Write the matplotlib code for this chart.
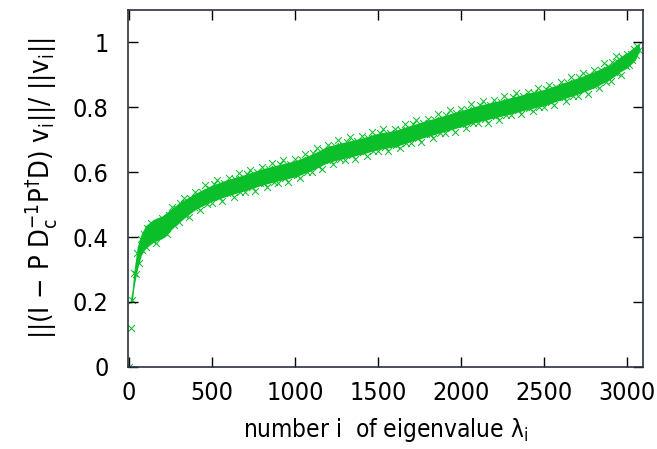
import matplotlib
matplotlib.use("Agg")
import matplotlib.pyplot as plt
import numpy as np

plt.rcParams["font.family"] = "DejaVu Sans"
plt.rcParams["font.stretch"] = "condensed"
plt.rcParams["mathtext.fontset"] = "custom"
plt.rcParams["mathtext.rm"] = "DejaVu Sans:stretch=condensed"
plt.rcParams["mathtext.it"] = "DejaVu Sans:stretch=condensed"

# eigenvalue number i, sampled every 10
idx = np.arange(0, 3080, 10)

# relative residual ||(I - P Dc^-1 P^+ D) v_i|| / ||v_i||
ratio = [
    0.0, 0.12, 0.205, 0.29, 0.285, 0.35, 0.32, 0.395, 0.36, 0.41,
    0.37, 0.428, 0.396, 0.444, 0.392, 0.42, 0.383, 0.441, 0.434, 0.412,
    0.46, 0.415, 0.449, 0.409, 0.468, 0.448, 0.492, 0.437, 0.466, 0.486,
    0.445, 0.504, 0.472, 0.521, 0.469, 0.498, 0.461, 0.52, 0.513, 0.492,
    0.54, 0.493, 0.525, 0.483, 0.54, 0.518, 0.56, 0.503, 0.53, 0.548,
    0.505, 0.562, 0.529, 0.575, 0.522, 0.549, 0.511, 0.568, 0.559, 0.536,
    0.583, 0.535, 0.566, 0.523, 0.579, 0.556, 0.597, 0.539, 0.565, 0.582,
    0.538, 0.595, 0.561, 0.608, 0.555, 0.582, 0.543, 0.60, 0.592, 0.568,
    0.615, 0.566, 0.598, 0.554, 0.61, 0.587, 0.628, 0.569, 0.595, 0.612,
    0.568, 0.624, 0.59, 0.637, 0.583, 0.609, 0.570, 0.626, 0.618, 0.594,
    0.64, 0.592, 0.624, 0.581, 0.638, 0.615, 0.657, 0.599, 0.626, 0.643,
    0.60, 0.658, 0.625, 0.673, 0.62, 0.648, 0.61, 0.668, 0.66, 0.638,
    0.685, 0.636, 0.668, 0.624, 0.68, 0.657, 0.698, 0.639, 0.665, 0.682,
    0.638, 0.694, 0.66, 0.707, 0.653, 0.679, 0.64, 0.696, 0.688, 0.664,
    0.71, 0.662, 0.693, 0.65, 0.706, 0.683, 0.724, 0.666, 0.692, 0.709,
    0.665, 0.721, 0.687, 0.732, 0.678, 0.704, 0.665, 0.721, 0.711, 0.687,
    0.733, 0.685, 0.716, 0.673, 0.73, 0.707, 0.748, 0.69, 0.717, 0.733,
    0.69, 0.747, 0.713, 0.76, 0.706, 0.733, 0.694, 0.751, 0.742, 0.719,
    0.765, 0.717, 0.748, 0.705, 0.761, 0.738, 0.779, 0.721, 0.747, 0.764,
    0.72, 0.777, 0.743, 0.79, 0.736, 0.763, 0.724, 0.781, 0.772, 0.749,
    0.795, 0.747, 0.778, 0.735, 0.791, 0.768, 0.809, 0.751, 0.777, 0.794,
    0.75, 0.806, 0.772, 0.819, 0.765, 0.791, 0.752, 0.808, 0.80, 0.776,
    0.822, 0.773, 0.805, 0.761, 0.817, 0.794, 0.835, 0.776, 0.802, 0.819,
    0.775, 0.831, 0.798, 0.844, 0.79, 0.817, 0.778, 0.834, 0.825, 0.802,
    0.848, 0.799, 0.83, 0.787, 0.843, 0.819, 0.86, 0.801, 0.828, 0.844,
    0.80, 0.857, 0.824, 0.87, 0.817, 0.844, 0.806, 0.863, 0.854, 0.831,
    0.878, 0.83, 0.861, 0.818, 0.875, 0.852, 0.893, 0.835, 0.862, 0.878,
    0.835, 0.892, 0.859, 0.906, 0.853, 0.88, 0.842, 0.899, 0.891, 0.868,
    0.915, 0.868, 0.90, 0.858, 0.915, 0.893, 0.935, 0.878, 0.905, 0.923,
    0.88, 0.939, 0.908, 0.957, 0.906, 0.935, 0.898, 0.956, 0.949, 0.927,
    0.965, 0.93, 0.965, 0.945, 0.98, 0.96, 0.99, 0.975,
]

# dense core of the point cloud (where the crosses merge into solid green)
band_idx = [8, 20, 30, 50, 75, 100, 150, 200, 300, 400, 500, 600, 700, 800,
            900, 1000, 1100, 1200, 1300, 1400, 1500, 1600, 1700, 1800, 1900,
            2000, 2100, 2200, 2300, 2400, 2500, 2600, 2700, 2800, 2900, 2950,
            3000, 3050, 3072]
band_lo = [0.195, 0.20, 0.245, 0.30, 0.345, 0.365, 0.385, 0.395, 0.445, 0.485,
           0.51, 0.528, 0.543, 0.56, 0.573, 0.585, 0.605, 0.63, 0.643, 0.655,
           0.67, 0.678, 0.695, 0.71, 0.725, 0.74, 0.755, 0.767, 0.78, 0.793,
           0.805, 0.823, 0.84, 0.86, 0.887, 0.907, 0.922, 0.947, 0.975]
band_hi = [0.205, 0.24, 0.295, 0.37, 0.41, 0.435, 0.455, 0.465, 0.505, 0.535,
           0.56, 0.578, 0.593, 0.61, 0.623, 0.635, 0.655, 0.68, 0.693, 0.705,
           0.72, 0.728, 0.745, 0.76, 0.775, 0.79, 0.805, 0.817, 0.83, 0.843,
           0.855, 0.873, 0.89, 0.91, 0.933, 0.953, 0.968, 0.99, 0.997]

xticks = [0, 500, 1000, 1500, 2000, 2500, 3000]
yticks = [0, 0.2, 0.4, 0.6, 0.8, 1]
ytick_labels = ["0", "0.2", "0.4", "0.6", "0.8", "1"]

green = "#0bbf2b"
frame = "#2b3142"

fig = plt.figure(figsize=(6.57, 4.49), dpi=100)
ax = fig.add_axes([0.195, 0.183, 0.784, 0.795])

ax.fill_between(band_idx, band_lo, band_hi, color=green, linewidth=0)
ax.scatter(idx, ratio, marker="x", s=24, linewidths=0.75, color=green)

ax.set_xlim(-5, 3095)
ax.set_ylim(0, 1.1)
ax.set_xticks(xticks)
ax.set_yticks(yticks)
ax.set_yticklabels(ytick_labels)

ax.tick_params(direction="in", length=7, width=1, colors="black",
               labelsize=18, top=True, right=True)
ax.tick_params(axis="x", pad=10)
ax.tick_params(axis="y", pad=14)
for s in ax.spines.values():
    s.set_color(frame)
    s.set_linewidth(1.2)

ax.set_xlabel("number i  of eigenvalue λ$_\\mathregular{i}$", fontsize=17.5, labelpad=8)
ax.set_ylabel("||(I $-$ P D$_\\mathregular{c}^{-1}$P$^{\\dagger}$D) v$_\\mathregular{i}$||/ ||v$_\\mathregular{i}$||",
              fontsize=19.5, labelpad=10)

fig.savefig("out.png", dpi=100)
